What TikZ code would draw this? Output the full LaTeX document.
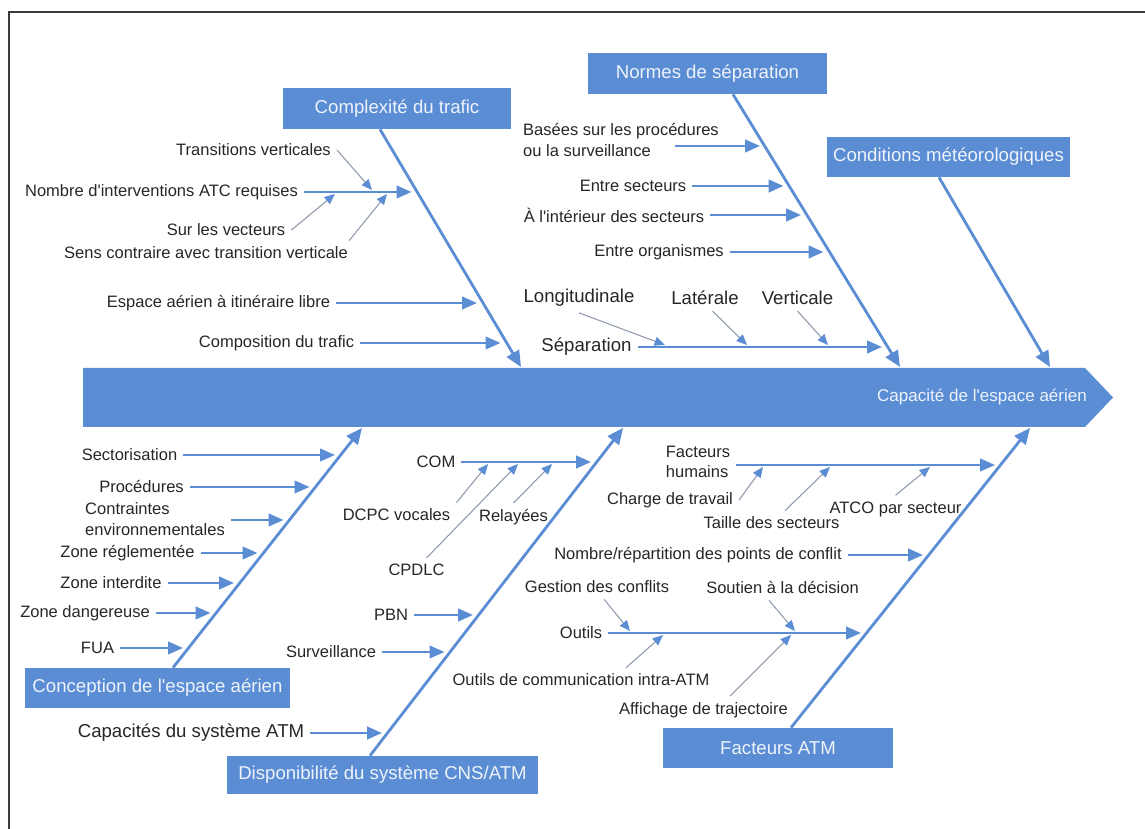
\documentclass[tikz,border=0pt]{standalone}
\usepackage{fontspec}
\setmainfont{Liberation Sans}
\usetikzlibrary{arrows.meta}
\definecolor{bluebone}{HTML}{5B8DD4}
\definecolor{boxtext}{HTML}{EEF3FB}
\definecolor{ink}{HTML}{262626}
\definecolor{hintgray}{HTML}{8E99AD}
\definecolor{framegray}{HTML}{3A3A3A}

\begin{document}
\begin{tikzpicture}[
  catbox/.style={fill=bluebone, text=boxtext, font=\fontsize{10.6}{12}\selectfont, inner sep=0pt},
  cause/.style={text=ink, font=\fontsize{9.4}{11.6}\selectfont},
  bigcause/.style={text=ink, font=\fontsize{10.6}{12.6}\selectfont},
  bonearrow/.style={bluebone, line width=1.6pt, -{Triangle[length=3.2mm, width=2.8mm]}},
  twigarrow/.style={bluebone, line width=1.5pt, -{Triangle[length=3mm, width=2.5mm]}},
  hintarrow/.style={hintgray, line width=0.6pt, -{Triangle[length=2.1mm, width=1.8mm, color=bluebone]}}]
  \useasboundingbox (0,0) rectangle (22.9,16.58);
  \draw[framegray, line width=1.1pt] (0.18,0) -- (0.18,16.34) -- (22.9,16.34);

  % spine
  \fill[bluebone] (1.66,8.04) -- (21.70,8.04) -- (22.26,8.63) -- (21.70,9.22) -- (1.66,9.22) -- cycle;
  \node[text=boxtext, font=\fontsize{9.7}{11}\selectfont] (cap) at (19.64,8.64) {Capacité de l\textquotesingle espace aérien};

  % category boxes
  \node[catbox, minimum width=4.56cm, minimum height=0.82cm] (trafic) at (7.94,14.41) {Complexité du trafic};
  \node[catbox, minimum width=4.78cm, minimum height=0.82cm] (normes) at (14.15,15.11) {Normes de séparation};
  \node[catbox, minimum width=4.86cm, minimum height=0.80cm] (meteo) at (18.97,13.44) {Conditions météorologiques};
  \node[catbox, minimum width=5.30cm, minimum height=0.80cm] (espace) at (3.15,2.82) {Conception de l\textquotesingle espace aérien};
  \node[catbox, minimum width=6.22cm, minimum height=0.76cm] (cns) at (7.65,1.08) {Disponibilité du système CNS/ATM};
  \node[catbox, minimum width=4.60cm, minimum height=0.80cm] (fatm) at (15.56,1.62) {Facteurs ATM};

  % bones
  \coordinate (t-trafic) at (10.42,9.24);
  \coordinate (t-normes) at (18.00,9.24);
  \coordinate (t-meteo) at (21.00,9.24);
  \coordinate (t-espace) at (7.24,8.02);
  \coordinate (t-cns) at (12.46,8.02);
  \coordinate (t-fatm) at (20.60,8.02);
  \draw[bonearrow] ([xshift=-3.4mm]trafic.south) -- (t-trafic);
  \draw[bonearrow] ([xshift=5.1mm]normes.south) -- (t-normes);
  \draw[bonearrow] ([xshift=-1.9mm]meteo.south) -- (t-meteo);
  \draw[bonearrow] ([xshift=3.1mm]espace.north) -- (t-espace);
  \draw[bonearrow] ([xshift=-2.5mm]cns.north) -- (t-cns);
  \draw[bonearrow] ([xshift=2.6mm]fatm.north) -- (t-fatm);

  % traffic complexity
  \node[cause] (trans) at (5.07,13.58) {Transitions verticales};
  \node[cause] (interv) at (3.23,12.74) {Nombre d\textquotesingle interventions ATC requises};
  \node[cause] (vect) at (4.52,11.98) {Sur les vecteurs};
  \node[cause] (contr) at (4.12,11.52) {Sens contraire avec transition verticale};
  \node[cause] (libre) at (4.37,10.52) {Espace aérien à itinéraire libre};
  \node[cause] (compo) at (5.53,9.72) {Composition du trafic};
  \coordinate (t-interv) at (8.23,12.74);
  \coordinate (t-libre) at (9.54,10.52);
  \coordinate (t-compo) at (10.01,9.72);
  \draw[twigarrow] (interv.east) -- (t-interv);
  \draw[twigarrow] (libre.east) -- (t-libre);
  \draw[twigarrow] (compo.east) -- (t-compo);
  \coordinate (h-trans) at (7.44,12.78);
  \coordinate (h-vect) at (6.70,12.70);
  \coordinate (h-contr) at (7.74,12.70);
  \draw[hintarrow] (trans.east) -- (h-trans);
  \draw[hintarrow] (vect.east) -- (h-vect);
  \draw[hintarrow] ([xshift=-1mm]contr.north east) -- (h-contr);

  % separation standards
  \node[cause, align=left] (basees) at (12.42,13.78) {Basées sur les procédures\\ou la surveillance};
  \node[cause] (entsec) at (12.66,12.86) {Entre secteurs};
  \node[cause] (intsec) at (12.28,12.28) {À l\textquotesingle intérieur des secteurs};
  \node[cause] (entorg) at (13.18,11.54) {Entre organismes};
  \node[bigcause] (longi) at (11.58,10.62) {Longitudinale};
  \node[bigcause] (late) at (14.10,10.62) {Latérale};
  \node[bigcause] (verti) at (15.95,10.62) {Verticale};
  \node[bigcause] (sepa) at (11.73,9.64) {Séparation};
  \coordinate (t-basees) at (15.20,13.66);
  \coordinate (t-entsec) at (15.67,12.86);
  \coordinate (t-intsec) at (16.02,12.28);
  \coordinate (t-entorg) at (16.47,11.54);
  \coordinate (t-sepa) at (17.64,9.64);
  \draw[twigarrow] ([xshift=-10mm]basees.east |- t-basees) -- (t-basees);
  \draw[twigarrow] (entsec.east) -- (t-entsec);
  \draw[twigarrow] (intsec.east) -- (t-intsec);
  \draw[twigarrow] (entorg.east) -- (t-entorg);
  \draw[twigarrow] (sepa.east) -- (t-sepa);
  \coordinate (h-longi) at (13.30,9.68);
  \coordinate (h-late) at (14.94,9.68);
  \coordinate (h-verti) at (16.56,9.68);
  \draw[hintarrow] (longi.south) -- (h-longi);
  \draw[hintarrow] ([xshift=1.5mm]late.south) -- (h-late);
  \draw[hintarrow] (verti.south) -- (h-verti);

  % airspace design
  \node[cause] (secto) at (2.59,7.48) {Sectorisation};
  \node[cause] (proce) at (2.83,6.84) {Procédures};
  \node[cause, align=left] (contra) at (3.10,6.20) {Contraintes\\environnementales};
  \node[cause] (reglem) at (2.55,5.52) {Zone réglementée};
  \node[cause] (interd) at (2.22,4.92) {Zone interdite};
  \node[cause] (dange) at (1.70,4.32) {Zone dangereuse};
  \node[cause] (fua) at (1.95,3.62) {FUA};
  \coordinate (t-secto) at (6.70,7.48);
  \coordinate (t-proce) at (6.19,6.84);
  \coordinate (t-contra) at (5.67,6.18);
  \coordinate (t-reglem) at (5.15,5.52);
  \coordinate (t-interd) at (4.68,4.92);
  \coordinate (t-dange) at (4.21,4.32);
  \coordinate (t-fua) at (3.66,3.62);
  \foreach \c in {secto,proce,contra,reglem,interd,dange,fua}
    \draw[twigarrow] (\c.east |- t-\c) -- (t-\c);

  % CNS/ATM availability
  \node[cause] (com) at (8.72,7.34) {COM};
  \node[cause] (dcpc) at (7.93,6.28) {DCPC vocales};
  \node[cause] (cpdlc) at (8.33,5.18) {CPDLC};
  \node[cause] (relay) at (10.27,6.24) {Relayées};
  \node[cause] (pbn) at (7.82,4.28) {PBN};
  \node[cause] (surv) at (6.62,3.54) {Surveillance};
  \node[bigcause] (capatm) at (3.82,1.92) {Capacités du système ATM};
  \coordinate (t-com) at (11.82,7.34);
  \coordinate (t-pbn) at (9.46,4.28);
  \coordinate (t-surv) at (8.89,3.54);
  \coordinate (t-capatm) at (7.64,1.92);
  \foreach \c in {com,pbn,surv,capatm}
    \draw[twigarrow] (\c.east) -- (t-\c);
  \coordinate (h-dcpc) at (9.76,7.30);
  \coordinate (h-cpdlc) at (10.36,7.30);
  \coordinate (h-relay) at (11.04,7.30);
  \draw[hintarrow] (dcpc.north east) -- (h-dcpc);
  \draw[hintarrow] ([xshift=2mm]cpdlc.north) -- (h-cpdlc);
  \draw[hintarrow] (relay.north) -- (h-relay);

  % ATM factors
  \node[cause, align=left] (fhum) at (13.96,7.34) {Facteurs\\humains};
  \node[cause] (charge) at (13.40,6.58) {Charge de travail};
  \node[cause] (taille) at (15.43,6.12) {Taille des secteurs};
  \node[cause] (atco) at (17.91,6.40) {ATCO par secteur};
  \node[cause] (nbconf) at (13.96,5.48) {Nombre/répartition des points de conflit};
  \node[cause] (gestion) at (11.94,4.84) {Gestion des conflits};
  \node[cause] (soutien) at (15.65,4.82) {Soutien à la décision};
  \node[cause] (outils) at (11.62,3.92) {Outils};
  \node[cause] (comintra) at (11.62,2.98) {Outils de communication intra-ATM};
  \node[cause] (affich) at (14.07,2.38) {Affichage de trajectoire};
  \coordinate (t-fhum) at (19.90,7.28);
  \coordinate (t-nbconf) at (18.46,5.48);
  \coordinate (t-outils) at (17.22,3.92);
  \draw[twigarrow] (fhum.east |- t-fhum) -- (t-fhum);
  \draw[twigarrow] (nbconf.east) -- (t-nbconf);
  \draw[twigarrow] (outils.east) -- (t-outils);
  \coordinate (h-charge) at (15.26,7.24);
  \coordinate (h-taille) at (16.60,7.24);
  \coordinate (h-atco) at (18.60,7.24);
  \coordinate (h-gestion) at (12.60,3.96);
  \coordinate (h-soutien) at (15.90,3.96);
  \coordinate (h-comintra) at (13.26,3.88);
  \coordinate (h-affich) at (15.82,3.88);
  \draw[hintarrow] (charge.east) -- (h-charge);
  \draw[hintarrow] ([xshift=2.7mm]taille.north) -- (h-taille);
  \draw[hintarrow] (atco.north) -- (h-atco);
  \draw[hintarrow] ([xshift=1.4mm]gestion.south) -- (h-gestion);
  \draw[hintarrow] ([xshift=-2.7mm]soutien.south) -- (h-soutien);
  \draw[hintarrow] ([xshift=9mm]comintra.north) -- (h-comintra);
  \draw[hintarrow] ([xshift=5.3mm]affich.north) -- (h-affich);
\end{tikzpicture}
\end{document}
